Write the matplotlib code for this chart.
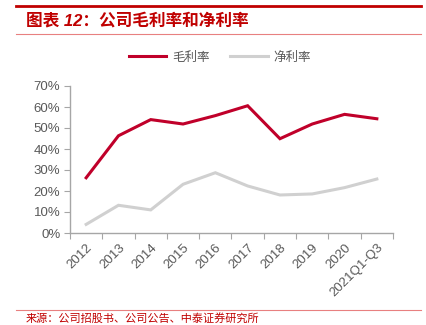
import matplotlib
matplotlib.use("Agg")
import matplotlib.pyplot as plt
from matplotlib.lines import Line2D

plt.rcParams['font.family'] = ['Liberation Sans', 'Noto Sans CJK SC', 'DejaVu Sans']

years = ["2012", "2013", "2014", "2015", "2016", "2017", "2018", "2019", "2020", "2021Q1-Q3"]
gross_margin = [26.3, 46.3, 54.0, 51.9, 55.9, 60.6, 44.9, 51.9, 56.5, 54.4]
net_margin = [4.1, 13.2, 11.0, 23.2, 28.7, 22.4, 18.1, 18.6, 21.6, 25.7]
yticks = [0, 10, 20, 30, 40, 50, 60, 70]

red = "#C0002A"
gray = "#D0D0D0"
txt = "#595959"

fig = plt.figure(figsize=(4.27, 3.25), dpi=100)
W, H = 427, 325

# header / footer decorations
fig.add_artist(Line2D([16 / W, 421 / W], [1 - 6 / H, 1 - 6 / H], color="#C00000", lw=2.0))
fig.add_artist(Line2D([16 / W, 421 / W], [1 - 33.5 / H, 1 - 33.5 / H], color="#E88080", lw=0.8))
fig.add_artist(Line2D([16 / W, 421 / W], [1 - 310 / H, 1 - 310 / H], color="#E88080", lw=0.8))
fig.text(26 / W, 1 - 21 / H, "图表 12：公司毛利率和净利率", color="#C00000", fontsize=12,
         fontweight="bold", style="italic", va="center", ha="left",
         family=["Liberation Sans", "Noto Sans CJK SC"])
fig.text(26 / W, 1 - 318 / H, "来源：公司招股书、公司公告、中泰证券研究所", color="#C00000",
         fontsize=8, va="center", ha="left", family=["Noto Sans CJK SC"])

ax = fig.add_axes([70 / W, 1 - 233 / H, (393 - 70) / W, (233 - 86) / H])
x = list(range(len(years)))
ax.plot(x, gross_margin, color=red, lw=2.2, label="毛利率", solid_joinstyle="miter")
ax.plot(x, net_margin, color=gray, lw=2.2, label="净利率", solid_joinstyle="miter")

ax.set_xlim(-0.5, len(years) - 0.5)
ax.set_ylim(0, 70)
ax.set_yticks(yticks)
ax.set_yticklabels([f"{v}%" for v in yticks])
ax.set_xticks([i - 0.5 for i in range(len(years) + 1)])
ax.set_xticklabels([])
ax.set_xticks(x, minor=True)
ax.set_xticklabels(years, minor=True, rotation=45, ha="right", va="top",
                   rotation_mode="anchor")
ax.tick_params(axis="x", which="minor", length=0, pad=6, labelsize=9.5, labelcolor=txt)
ax.tick_params(axis="x", which="major", length=4, color="#A6A6A6", direction="out")
ax.tick_params(axis="y", length=4, color="#A6A6A6", labelsize=9.5, labelcolor=txt, pad=3)

for s in ["top", "right"]:
    ax.spines[s].set_visible(False)
for s in ["left", "bottom"]:
    ax.spines[s].set_color("#A6A6A6")
    ax.spines[s].set_linewidth(1.0)

ax.legend(loc="center", bbox_to_anchor=(220 / W, 1 - 57 / H), bbox_transform=fig.transFigure,
          ncol=2, frameon=False, labelcolor=txt, handlelength=3.0,
          handletextpad=0.5, columnspacing=1.6, prop={"family": ["Noto Sans CJK SC"], "size": 9})

fig.savefig("out.png", dpi=100)
